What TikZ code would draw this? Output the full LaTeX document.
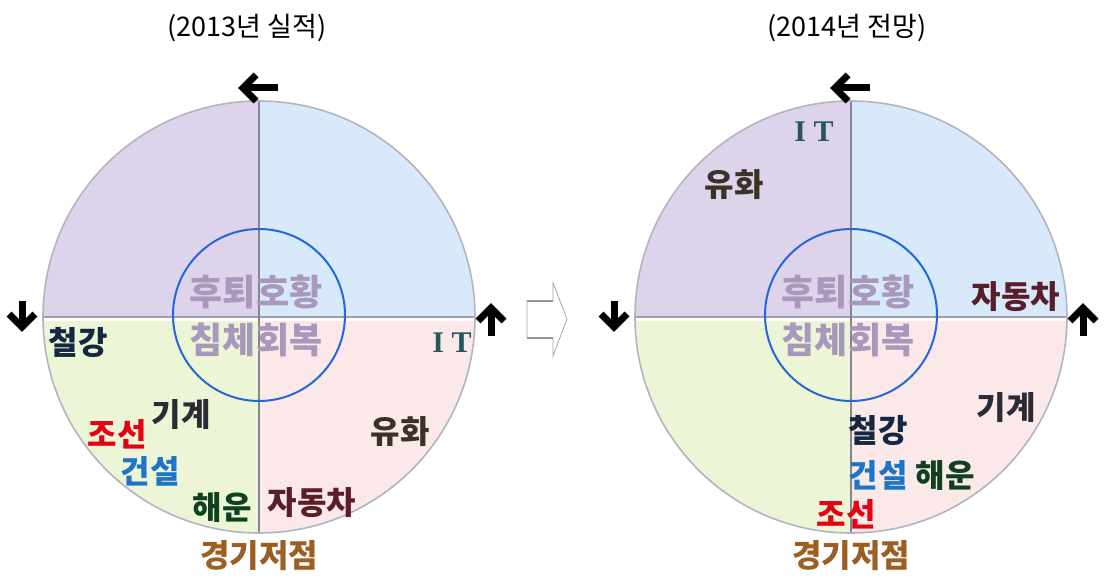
\documentclass[tikz,border=0pt]{standalone}
\usepackage{fontspec}
\newfontfamily\kr{Noto Sans CJK KR}
\newfontfamily\serifb{Liberation Serif}
\definecolor{qUL}{HTML}{DDD3EB}
\definecolor{qUR}{HTML}{D8E9FA}
\definecolor{qLL}{HTML}{ECF5D5}
\definecolor{qLR}{HTML}{FBE9EA}
\definecolor{rimgray}{HTML}{B4B4BE}
\definecolor{axisgray}{HTML}{85858F}
\definecolor{innerblue}{HTML}{2468D8}
\definecolor{centertxt}{HTML}{A898BC}
\definecolor{cSteel}{HTML}{142840}
\definecolor{cMach}{HTML}{2B2B35}
\definecolor{cShip}{HTML}{E60012}
\definecolor{cCons}{HTML}{1C75C8}
\definecolor{cShipping}{HTML}{0F4020}
\definecolor{cPetro}{HTML}{3A3226}
\definecolor{cAuto}{HTML}{5A1E2A}
\definecolor{cIT}{HTML}{24585A}
\definecolor{cLow}{HTML}{9C5E22}
\tikzset{
  lbl/.style={font=\kr\bfseries\fontsize{32}{34}\selectfont, inner sep=0pt},
  ctr/.style={font=\kr\bfseries\fontsize{36}{38}\selectfont, text=centertxt, inner sep=0pt},
  ttl/.style={font=\kr\fontsize{27}{30}\selectfont, inner sep=0pt},
  itlbl/.style={font=\serifb\bfseries\fontsize{30}{32}\selectfont, text=cIT, inner sep=0pt},
  blackarrow/.style={line width=7pt, black},
}
\newcommand{\cyclediagram}[3]{%
  % #1 = center x, #2 = center y, #3 = name prefix
  \begin{scope}
    \clip (#1,#2) circle (216);
    \fill[qUL] (#1-220,#2-220) rectangle (#1,#2);
    \fill[qUR] (#1,#2-220) rectangle (#1+220,#2);
    \fill[qLL] (#1-220,#2) rectangle (#1,#2+220);
    \fill[qLR] (#1,#2) rectangle (#1+220,#2+220);
    \draw[white, line width=3pt] (#1-220,#2+2) -- (#1+220,#2+2);
    \draw[axisgray!80, line width=1.2pt] (#1-220,#2) -- (#1+220,#2);
    \draw[axisgray, line width=1.5pt] (#1,#2-220) -- (#1,#2+220);
  \end{scope}
  \draw[rimgray, line width=1.6pt] (#1,#2) circle (216);
  \draw[innerblue, line width=2pt] (#1,#2-2) circle (86);
  \node[ctr] (#3c1) at (#1-3,#2-25) {후퇴호황};
  \node[ctr] (#3c2) at (#1-3,#2+23) {침체회복};
  \node[lbl, text=cLow] (#3low) at (#1,#2+239) {경기저점};
  % direction arrows
  \draw[blackarrow] (#1+19,#2-229) -- (#1-16,#2-229);
  \draw[blackarrow, line join=miter] (#1-3,#2-242) -- (#1-16,#2-229) -- (#1-3,#2-216);
  \draw[blackarrow] (#1-237,#2-16) -- (#1-237,#2+10);
  \draw[blackarrow, line join=miter] (#1-250,#2-3) -- (#1-237,#2+10) -- (#1-224,#2-3);
  \draw[blackarrow] (#1+232,#2+19) -- (#1+232,#2-9);
  \draw[blackarrow, line join=miter] (#1+219,#2+4) -- (#1+232,#2-9) -- (#1+245,#2+4);
}
\begin{document}
\begin{tikzpicture}[x=1pt,y=-1pt]
\useasboundingbox (0,0) rectangle (1104,578);
\fill[white] (0,0) rectangle (1104,578);

% titles
\node[ttl] (t1) at (247,28) {(2013년 실적)};
\node[ttl] (t2) at (847,28) {(2014년 전망)};

% left diagram
\cyclediagram{259}{317}{L}
\node[lbl, text=cSteel] (Lsteel) at (78,343) {철강};
\node[lbl, text=cMach] (Lmach) at (181,414) {기계};
\node[lbl, text=cShip] (Lship) at (117,434) {조선};
\node[lbl, text=cCons] (Lcons) at (150,471) {건설};
\node[lbl, text=cShipping] (Lshipping) at (222,507) {해운};
\node[lbl, text=cPetro] (Lpetro) at (400,432) {유화};
\node[lbl, text=cAuto] (Lauto) at (312,503) {자동차};
\node[itlbl] (Lit) at (452,343) {I T};

% middle hollow block arrow
\draw[gray!70, line width=0.8pt, line join=miter]
  (527,301) -- (553,301) -- (553,283) -- (567,319) -- (553,356) -- (553,338) -- (527,338) -- cycle;
\draw[gray!85, line width=1.8pt] (527,301) -- (553,301);
\draw[gray!85, line width=1.8pt] (527,338) -- (553,338);

% right diagram
\cyclediagram{851}{317}{R}
\node[itlbl] (Rit) at (814,132) {I T};
\node[lbl, text=cPetro] (Rpetro) at (734,185) {유화};
\node[lbl, text=cAuto] (Rauto) at (1016,297) {자동차};
\node[lbl, text=cMach] (Rmach) at (1006,407) {기계};
\node[lbl, text=cSteel] (Rsteel) at (878,431) {철강};
\node[lbl, text=cCons] (Rcons) at (878,475) {건설};
\node[lbl, text=cShipping] (Rshipping) at (945,475) {해운};
\node[lbl, text=cShip] (Rship) at (846,514) {조선};
\end{tikzpicture}
\end{document}
